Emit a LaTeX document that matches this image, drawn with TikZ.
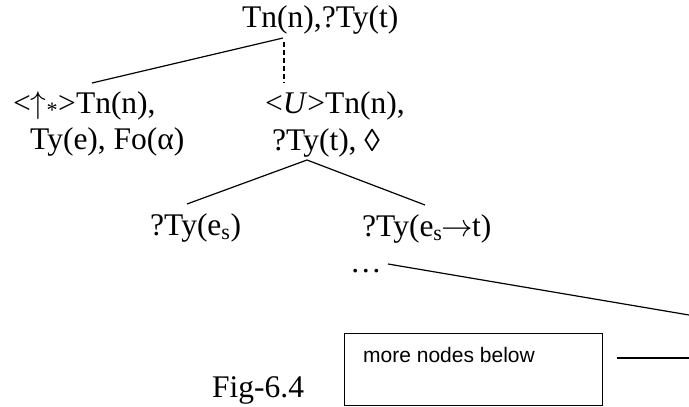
\RequirePackage{fix-cm}
\documentclass[tikz,border=0pt]{standalone}
\usepackage{fontspec}
\setmainfont{Liberation Serif}
\setsansfont{Liberation Sans}
\begin{document}
\begin{tikzpicture}[x=1pt,y=-1pt,
  txt/.style={inner sep=0pt,anchor=base west,font=\fontsize{31.5}{36}\selectfont},
  boxtxt/.style={inner sep=0pt,anchor=base west,font=\sffamily\fontsize{21}{25}\selectfont},
  edge/.style={line width=1.2pt},
  dashedge/.style={line width=1.3pt,dash pattern=on 5pt off 3pt},
  morebox/.style={draw,line width=1.2pt,minimum width=258pt,minimum height=72pt,inner sep=0pt,anchor=north west}]
\useasboundingbox (0,0) rectangle (689,407);
% texts
\node[txt] (top) at (242,27) {Tn(n),?Ty(t)};
\node[txt] (l1) at (13,113) {<$\uparrow$\textsubscript{*}>Tn(n),};
\node[txt] (l2) at (30,149) {Ty(e), Fo(α)};
\node[txt] (m1) at (265,113) {<\textit{U}>Tn(n),};
\node[txt] (m2) at (272,150) {?Ty(t), \raisebox{-1pt}{◊}};
\node[txt] (es) at (150,235) {?Ty(e\textsubscript{s})};
\node[txt] (est) at (362,236) {?Ty(e\textsubscript{s}\kern-1pt$\rightarrow$\kern-1pt t)};
\node[txt] (dots) at (350,272) {…};
\node[txt] (fig) at (212,397) {Fig-6.4};
\node[morebox] (box) at (344,333) {};
\node[boxtxt] (boxt) at (363,362) {more nodes below};
% connector end points
\coordinate (topA) at (283,38);
\coordinate (topD) at (284,42);
\coordinate (lA) at (92,83);
\coordinate (mA) at (284,83);
\coordinate (apex) at (307,160);
\coordinate (esA) at (187,204);
\coordinate (estA) at (425,205);
\coordinate (dotsA) at (388,264);
\coordinate (rightA) at (689,315);
\coordinate (boxA) at (617,358);
\coordinate (rightB) at (689,358);
% connectors
\draw[edge] (lA) -- (topA);
\draw[dashedge] (topD) -- (mA);
\draw[edge] (esA) -- (apex) -- (estA);
\draw[edge] (dotsA) -- (rightA);
\draw[edge] (boxA) -- (rightB);
\end{tikzpicture}
\end{document}
